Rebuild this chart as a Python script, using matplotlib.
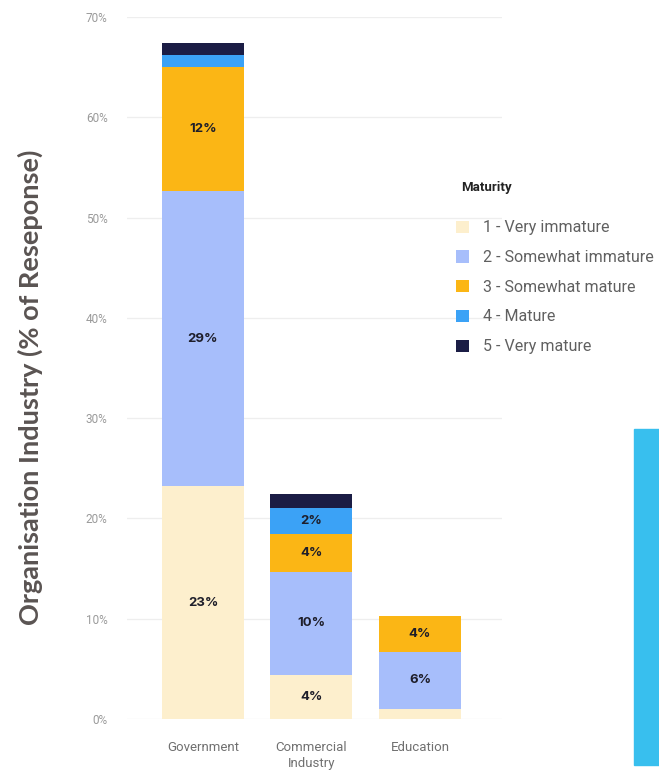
import numpy as np
import matplotlib
matplotlib.use("Agg")
import matplotlib.pyplot as plt
from matplotlib.patches import Rectangle

# industries on the x axis
industries = ["Government", "Commercial\nIndustry", "Education"]

# maturity levels, stacked bottom to top
levels = ["1 - Very immature", "2 - Somewhat immature", "3 - Somewhat mature",
          "4 - Mature", "5 - Very mature"]
colors = ["#fdefcd", "#a7befb", "#fbb615", "#3ba2f6", "#1b1d45"]

# % of response, one list per maturity level (Government, Commercial, Education)
very_immature = [23.2, 4.4, 1.0]
somewhat_immature = [29.4, 10.3, 5.7]
somewhat_mature = [12.4, 3.7, 3.6]
mature = [1.2, 2.6, 0.0]
very_mature = [1.2, 1.4, 0.0]

# labels printed inside the segments ("" = no label)
lbl_very_immature = ["23%", "4%", ""]
lbl_somewhat_immature = ["29%", "10%", "6%"]
lbl_somewhat_mature = ["12%", "4%", "4%"]
lbl_mature = ["", "2%", ""]
lbl_very_mature = ["", "", ""]

series = [very_immature, somewhat_immature, somewhat_mature, mature, very_mature]
labels = [lbl_very_immature, lbl_somewhat_immature, lbl_somewhat_mature,
          lbl_mature, lbl_very_mature]

fig = plt.figure(figsize=(6.59, 7.72), dpi=100)
ax = fig.add_axes([127 / 659, 53 / 772, 375 / 659, 702 / 772])

x = np.arange(len(industries))
bottom = np.zeros(len(industries))
handles = []
for vals, lbls, col, name in zip(series, labels, colors, levels):
    vals = np.array(vals)
    bars = ax.bar(x, vals, width=0.756, bottom=bottom, color=col, label=name,
                  zorder=2)
    handles.append(bars)
    for xi, b, v, t in zip(x, bottom, vals, lbls):
        if t:
            ax.text(xi, b + v / 2, t, ha="center", va="center", fontsize=9.5,
                    fontweight="bold", color="#1e1e2a", family=["Inter", "DejaVu Sans"],
                    zorder=3)
    bottom = bottom + vals

ax.set_xlim(-0.70, 2.756)
ax.set_ylim(0, 70)
ax.set_yticks(np.arange(0, 71, 10))
ax.set_yticklabels([f"{v}%" for v in range(0, 71, 10)], fontsize=8.5,
                   color="#9a9a9a", family=["Roboto", "DejaVu Sans"])
ax.set_xticks(x)
ax.set_xticklabels(industries, fontsize=9.5, color="#707070",
                   family=["Roboto", "DejaVu Sans"], linespacing=1.3)
ax.tick_params(axis="both", length=0)
ax.tick_params(axis="y", pad=14)
ax.tick_params(axis="x", pad=16)
ax.grid(axis="y", color="#eeeeee", linewidth=0.9, zorder=0)
for s in ax.spines.values():
    s.set_visible(False)

leg = ax.legend(handles=handles, loc="upper left",
                bbox_to_anchor=(450 / 659, 1 - 214 / 772),
                bbox_transform=fig.transFigure, frameon=False,
                prop={"family": ["Roboto", "DejaVu Sans"], "size": 11.5},
                labelspacing=0.92, handlelength=0.8, handleheight=0.8,
                handletextpad=0.85, borderaxespad=0.0)
for t in leg.get_texts():
    t.set_color("#606060")

fig.text(461 / 659, 1 - 187 / 772, "Maturity", ha="left", va="center",
         fontsize=9.5, fontweight="bold", color="#222222",
         family=["Roboto", "DejaVu Sans"])

fig.text(30 / 659, 1 - 387 / 772, "Organisation Industry (% of Reseponse)",
         rotation=90, ha="center", va="center", fontsize=19.5, fontweight="bold",
         color="#5a5452", family=["Lato", "DejaVu Sans"])

fig.patches.append(Rectangle((634 / 659, 7 / 772), 25 / 659, 336 / 772,
                             transform=fig.transFigure, color="#38bfee"))

fig.savefig("out.png", dpi=100, facecolor="white")
